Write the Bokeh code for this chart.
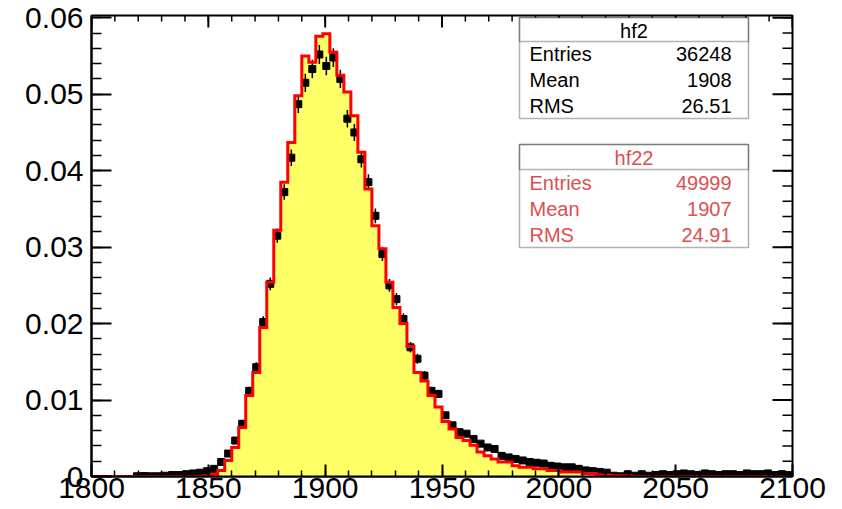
import math
from bokeh.plotting import figure
from bokeh.models import FixedTicker, LinearAxis, BoxAnnotation, Label
from bokeh.embed import file_html
from bokeh.resources import INLINE

# ---------------- data ----------------
x_lo, x_hi, bin_w = 1800, 2100, 3
bin_edges = [x_lo + bin_w * i for i in range(101)]

# hf22 (yellow filled, red outline) normalised bin contents
hf22 = [
    0, 0, 0, 0, 0, 0, 0, 0, 0, 0,
    0, 0, 0, 0, 0, 0, 0.0001, 0.0003, 0.0008, 0.0021,
    0.0038, 0.0064, 0.0106, 0.0136, 0.0195, 0.0254, 0.0322, 0.0385, 0.0437, 0.0498,
    0.0550, 0.0542, 0.0576, 0.0579, 0.0555, 0.0525, 0.0503, 0.0472, 0.0424, 0.0376,
    0.0328, 0.0298, 0.0254, 0.0221, 0.0200, 0.0170, 0.0136, 0.0125, 0.0106, 0.0091,
    0.0072, 0.0062, 0.0051, 0.0047, 0.0041, 0.0032, 0.0027, 0.0023, 0.0019, 0.0019,
    0.0014, 0.0012, 0.0012, 0.0010, 0.0010, 0.0008, 0.0008, 0.0006, 0.0006, 0.0006,
    0.0004, 0.0004, 0.0002, 0.0002, 0.0001, 0.0001, 0.0001, 0, 0, 0,
    0, 0, 0, 0, 0, 0, 0, 0, 0, 0,
    0, 0, 0, 0, 0, 0, 0, 0, 0, 0,
]

# hf2 (black points with error bars) normalised bin contents
hf2 = [
    0, 0, 0, 0, 0, 0, 0.00003, 0.00006, 0.00003, 0.00003,
    0.0001, 0.0002, 0.0002, 0.0003, 0.0004, 0.0005, 0.0007, 0.0010, 0.0019, 0.0030,
    0.0047, 0.0069, 0.0112, 0.0143, 0.0202, 0.0252, 0.0315, 0.0372, 0.0417, 0.0487,
    0.0515, 0.0533, 0.0552, 0.0537, 0.0548, 0.0520, 0.0468, 0.0450, 0.0415, 0.0385,
    0.0341, 0.0291, 0.0250, 0.0232, 0.0206, 0.0169, 0.0154, 0.0132, 0.0112, 0.0108,
    0.0080, 0.0067, 0.0058, 0.0056, 0.0049, 0.0043, 0.0038, 0.0036, 0.0027, 0.0025,
    0.0023, 0.0021, 0.0019, 0.0018, 0.0017, 0.0014, 0.0013, 0.0012, 0.0012, 0.0010,
    0.0008, 0.0007, 0.0006, 0.0005, 0.0001, 0.00003, 0.0003, 0.0001, 0.0003, 0.0001,
    0.0002, 0.0003, 0.0002, 0.0003, 0.0004, 0.0003, 0.0002, 0.0004, 0.0003, 0.0002,
    0.0003, 0.0003, 0.0002, 0.0004, 0.0003, 0.0003, 0.0004, 0.0002, 0.0003, 0.0002,
]
hf2_entries = 36248

x_major = [1800, 1850, 1900, 1950, 2000, 2050, 2100]
x_minor = list(range(1800, 2101, 10))
y_major = [0, 0.01, 0.02, 0.03, 0.04, 0.05, 0.06]
y_minor = [round(0.002 * i, 3) for i in range(31)]

stat_names = ["Entries", "Mean", "RMS"]
hf2_stats = ["36248", "1908", "26.51"]
hf22_stats = ["49999", "1907", "24.91"]

# ---------------- figure ----------------
W, H = 842, 509
FL, FR, FT, FB = 91, 792, 15, 476
y_top = 0.0603

p = figure(width=W, height=H, x_range=(x_lo, x_hi), y_range=(0, y_top),
           output_backend="svg", toolbar_location=None,
           min_border_left=FL, min_border_right=W - FR, min_border_top=FT,
           min_border_bottom=H - FB, x_axis_location=None, y_axis_location=None)
p.grid.visible = False
p.outline_line_color = "black"
p.outline_line_width = 2
p.background_fill_color = "white"
p.border_fill_color = "white"

FONT = "Liberation Sans"
LABEL_SIZE = "30px"


def style_axis(ax, tick_major, tick_minor):
    ax.major_tick_in = tick_major
    ax.major_tick_out = 0
    ax.minor_tick_in = tick_minor
    ax.minor_tick_out = 0
    ax.axis_line_color = "black"
    ax.axis_line_width = 2
    ax.major_tick_line_width = 2
    ax.minor_tick_line_width = 1.5
    ax.major_tick_line_color = "black"
    ax.minor_tick_line_color = "black"
    ax.major_label_text_font = FONT
    ax.major_label_text_font_size = LABEL_SIZE
    ax.major_label_text_color = "black"


xt = FixedTicker(ticks=x_major, minor_ticks=x_minor)
yt = FixedTicker(ticks=y_major, minor_ticks=y_minor)

xb = LinearAxis(ticker=xt)
style_axis(xb, 12, 6)
xb.major_label_standoff = 1
p.add_layout(xb, "below")

yl = LinearAxis(ticker=yt)
style_axis(yl, 20, 10)
yl.major_label_standoff = 8
yl.major_label_overrides = {0: "0"}
p.add_layout(yl, "left")

# ---------------- histogram hf22 ----------------
step_x, step_y = [], []
for i, v in enumerate(hf22):
    step_x += [bin_edges[i], bin_edges[i + 1]]
    step_y += [v, v]
p.varea(x=step_x, y1=[0] * len(step_y), y2=step_y, fill_color="#ffff66")

# ---------------- points hf2 ----------------
cx, cy, lx, rx, elo, ehi = [], [], [], [], [], []
for i, v in enumerate(hf2):
    if v <= 0:
        continue
    e = math.sqrt(v / hf2_entries)
    cx.append((bin_edges[i] + bin_edges[i + 1]) / 2)
    cy.append(v)
    lx.append(bin_edges[i])
    rx.append(bin_edges[i + 1])
    elo.append(v - e)
    ehi.append(v + e)
p.segment(x0=lx, x1=rx, y0=cy, y1=cy, line_color="black", line_width=1.5)
p.segment(x0=cx, x1=cx, y0=elo, y1=ehi, line_color="black", line_width=1.5)
p.scatter(x=cx, y=cy, marker="square", size=7, fill_color="black", line_color="black")

p.line(x=step_x, y=step_y, line_color="#ff0000", line_width=3, line_join="miter")

# ---------------- ticks on the top and right frame edges ----------------
dy_px = y_top / (FB - FT)
dx_px = (x_hi - x_lo) / (FR - FL)
p.segment(x0=x_major, x1=x_major, y0=[y_top] * len(x_major),
          y1=[y_top - 12 * dy_px] * len(x_major), line_color="black", line_width=2)
p.segment(x0=x_minor, x1=x_minor, y0=[y_top] * len(x_minor),
          y1=[y_top - 6 * dy_px] * len(x_minor), line_color="black", line_width=1.5)
p.segment(x0=[x_hi] * len(y_major), x1=[x_hi - 20 * dx_px] * len(y_major),
          y0=y_major, y1=y_major, line_color="black", line_width=2)
p.segment(x0=[x_hi] * len(y_minor), x1=[x_hi - 10 * dx_px] * len(y_minor),
          y0=y_minor, y1=y_minor, line_color="black", line_width=1.5)

# ---------------- stat boxes ----------------
def px2x(px):
    return x_lo + (px - FL) * dx_px


def py2y(py):
    return (FB - py) * dy_px


def stat_box(top, sep, bottom, title, values, color):
    left, right = 519, 748
    p.add_layout(BoxAnnotation(left=px2x(left), right=px2x(right), top=py2y(top), bottom=py2y(bottom),
                               fill_color="white", fill_alpha=1.0, line_color="black", line_width=1.5))
    p.add_layout(BoxAnnotation(left=px2x(left), right=px2x(right), top=py2y(top), bottom=py2y(sep),
                               fill_alpha=0.0, line_color="black", line_width=1.5))
    p.add_layout(Label(x=px2x((left + right) / 2), y=py2y((top + sep) / 2 + 1), text=title,
                       text_font=FONT, text_font_size="20px", text_color=color,
                       text_align="center", text_baseline="middle"))
    row_h = (bottom - sep) / 3.0
    for k, (nm, val) in enumerate(zip(stat_names, values)):
        yc = sep + row_h * (k + 0.5)
        p.add_layout(Label(x=px2x(529), y=py2y(yc), text=nm, text_font=FONT,
                           text_font_size="20px", text_color=color,
                           text_align="left", text_baseline="middle"))
        p.add_layout(Label(x=px2x(731), y=py2y(yc), text=val, text_font=FONT,
                           text_font_size="20px", text_color=color,
                           text_align="right", text_baseline="middle"))


stat_box(17, 41, 118, "hf2", hf2_stats, "black")
stat_box(144, 169, 247, "hf22", hf22_stats, "#dc5050")

open("out.html", "w").write(file_html(p, INLINE))
